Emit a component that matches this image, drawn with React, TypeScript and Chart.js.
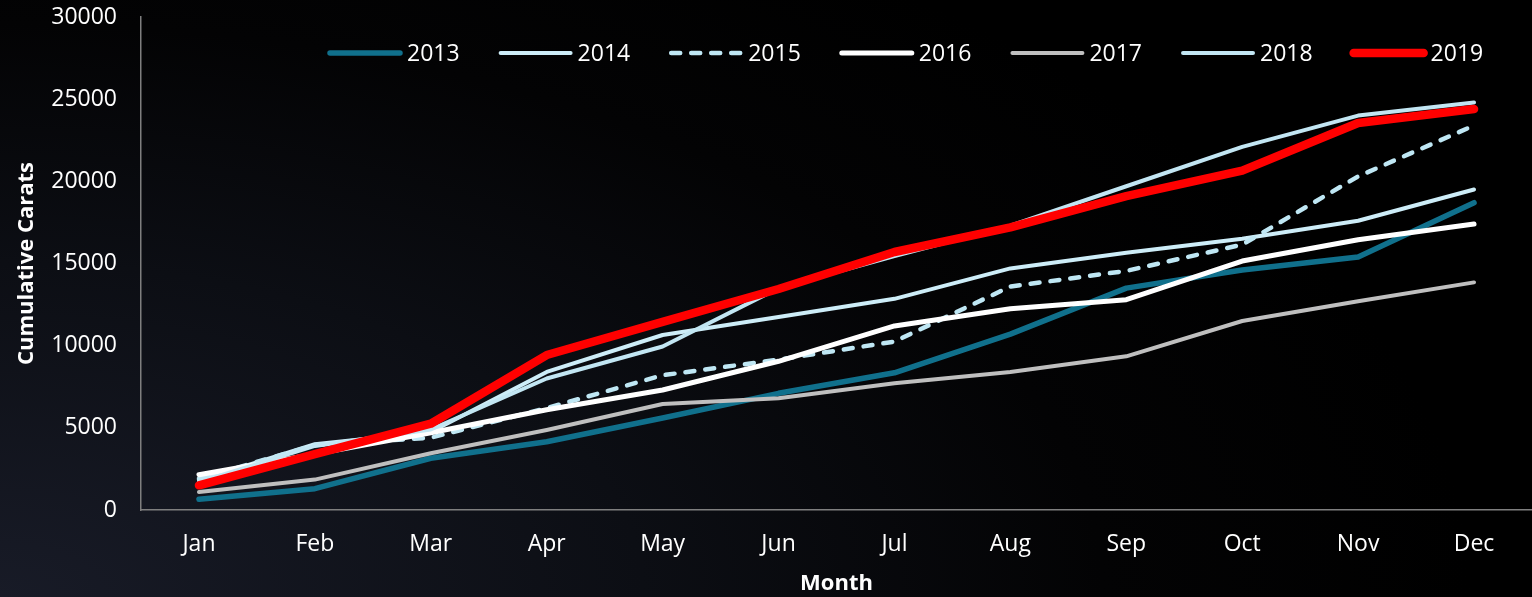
import { useEffect, useRef } from "react";
import { Chart, registerables } from "chart.js";

Chart.register(...registerables);

const months = ["Jan", "Feb", "Mar", "Apr", "May", "Jun", "Jul", "Aug", "Sep", "Oct", "Nov", "Dec"];
const years = ["2013", "2014", "2015", "2016", "2017", "2018", "2019"];

const carats2013 = [650, 1300, 3150, 4150, 5600, 7100, 8350, 10700, 13500, 14600, 15400, 18700];
const carats2014 = [1800, 4000, 4750, 8400, 10650, 11750, 12850, 14700, 15650, 16500, 17600, 19500];
const carats2015 = [1900, 3950, 4400, 6200, 8200, 9150, 10250, 13600, 14550, 16150, 20300, 23400];
const carats2016 = [2150, 3400, 4700, 6100, 7300, 9050, 11200, 12250, 12800, 15150, 16450, 17400];
const carats2017 = [1100, 1850, 3450, 4870, 6450, 6800, 7710, 8400, 9350, 11500, 12700, 13850];
const carats2018 = [1700, 3900, 4900, 8000, 9950, 13500, 15450, 17300, 19700, 22100, 24000, 24800];
const carats2019 = [1500, 3400, 5250, 9430, 11450, 13450, 15700, 17200, 19100, 20650, 23550, 24400];

const yTicks = [0, 5000, 10000, 15000, 20000, 25000, 30000];

const seriesData = [carats2013, carats2014, carats2015, carats2016, carats2017, carats2018, carats2019];
const seriesColors = ["#10708c", "#cdedf8", "#bfe7f4", "#ffffff", "#bfbfbf", "#c2e6f3", "#ff0000"];
const seriesWidths = [5.5, 4, 4.5, 5, 4, 4, 8.5];
const seriesDashes: number[][] = [[], [], [9, 11], [], [], [], []];

const FONT = '"Open Sans", "Liberation Sans", sans-serif';

const lineLegend = {
  id: "lineLegend",
  afterDraw(chart: any) {
    const ctx = chart.ctx as CanvasRenderingContext2D;
    ctx.save();
    ctx.font = `23px ${FONT}`;
    ctx.textBaseline = "middle";
    const y = 53;
    let x = 330;
    chart.data.datasets.forEach((ds: any) => {
      ctx.beginPath();
      ctx.setLineDash(ds.borderDash || []);
      ctx.lineCap = "round";
      ctx.lineWidth = ds.borderWidth;
      ctx.strokeStyle = ds.borderColor;
      ctx.moveTo(x, y);
      ctx.lineTo(x + 70, y);
      ctx.stroke();
      ctx.setLineDash([]);
      ctx.fillStyle = "#ffffff";
      ctx.fillText(ds.label, x + 77, y + 1);
      x += 77 + ctx.measureText(ds.label).width + 41;
    });
    ctx.restore();
  },
};

export default function App() {
  const ref = useRef<HTMLCanvasElement>(null);

  useEffect(() => {
    const datasets = years.map((label, i) => ({
      label,
      data: seriesData[i],
      borderColor: seriesColors[i],
      backgroundColor: seriesColors[i],
      borderWidth: seriesWidths[i],
      borderDash: seriesDashes[i],
      borderCapStyle: "round" as const,
      borderJoinStyle: "round" as const,
      pointRadius: 0,
      pointHoverRadius: 0,
      tension: 0,
      fill: false,
      order: years.length - i,
    }));

    const chart = new Chart(ref.current!, {
      type: "line",
      data: { labels: months, datasets },
      options: {
        animation: false,
        responsive: true,
        maintainAspectRatio: false,
        layout: { padding: { top: 17, right: 0, left: 0, bottom: 0 } },
        plugins: {
          legend: { display: false },
          tooltip: { enabled: false },
        },
        scales: {
          x: {
            type: "category",
            offset: true,
            grid: { display: false, drawTicks: false },
            border: { display: true, color: "#7f7f7f", width: 1.5 },
            ticks: {
              color: "#ffffff",
              font: { family: FONT, size: 23 },
              padding: 21,
              maxRotation: 0,
              autoSkip: false,
            },
            title: {
              display: true,
              text: "Month",
              color: "#ffffff",
              font: { family: FONT, size: 22, weight: "bold" },
              padding: { top: 0, bottom: 0 },
            },
            afterFit: (s: any) => {
              s.height = 87;
              s.paddingLeft = 0;
              s.paddingRight = 0;
            },
          },
          y: {
            min: 0,
            max: 30000,
            afterBuildTicks: (s: any) => {
              s.ticks = yTicks.map((v) => ({ value: v }));
            },
            grid: { display: false, drawTicks: false },
            border: { display: true, color: "#7f7f7f", width: 1.5 },
            ticks: {
              color: "#ffffff",
              font: { family: FONT, size: 23 },
              padding: 24,
              callback: (v: any) => String(v),
            },
            title: {
              display: true,
              text: "Cumulative Carats",
              color: "#ffffff",
              font: { family: FONT, size: 22, weight: "bold" },
              padding: { top: 14, bottom: 0 },
            },
            afterFit: (s: any) => {
              s.width = 141;
              s.paddingTop = 0;
              s.paddingBottom = 0;
            },
          },
        },
      },
      plugins: [lineLegend],
    });
    return () => chart.destroy();
  }, []);

  return (
    <div
      style={{
        position: "fixed",
        left: 0,
        top: 0,
        width: 1532,
        height: 597,
        background:
          "radial-gradient(ellipse 120% 160% at 0% 100%, #181b27 0%, #0c0e14 35%, #030304 60%, #000000 80%)",
      }}
    >
      <canvas ref={ref} />
    </div>
  );
}
